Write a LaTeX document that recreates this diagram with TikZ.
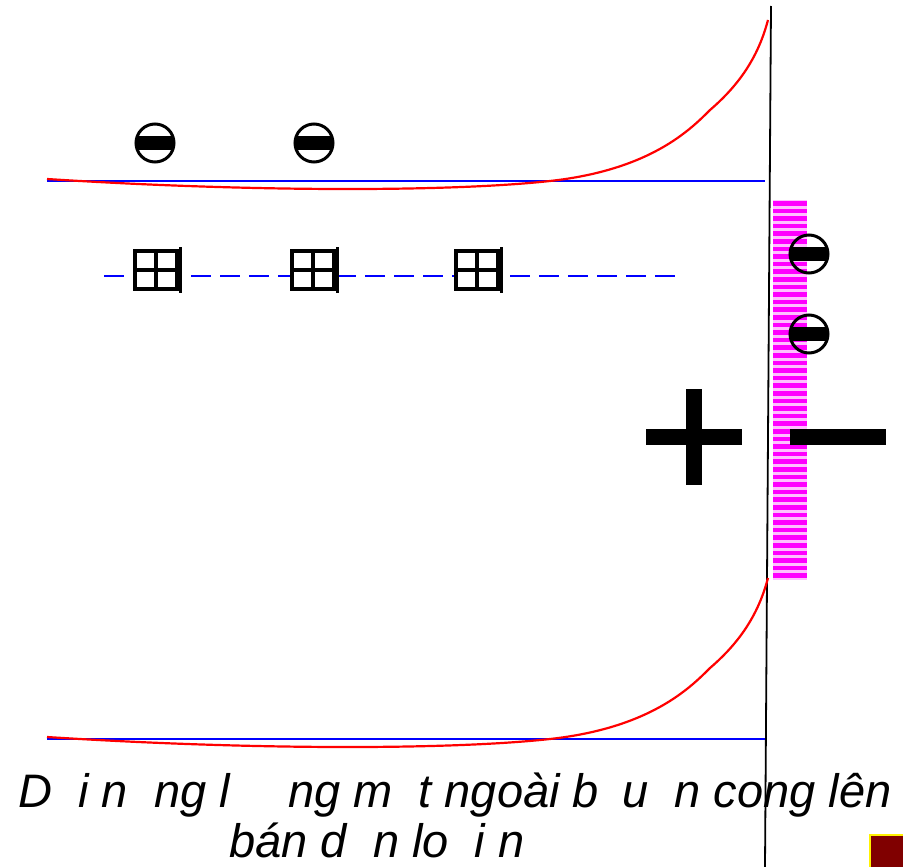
\documentclass[tikz,border=0pt]{standalone}
\usepackage{fontspec}
\setmainfont{Liberation Sans}
\usetikzlibrary{positioning,calc}
\definecolor{hong}{HTML}{FF00FF}
\definecolor{nauDo}{HTML}{800000}
\newcommand{\mat}[1]{\hphantom{#1}}
\begin{document}
\begin{tikzpicture}[x=1pt,y=-1pt,
        e/.style={circle,draw,line width=3pt,minimum size=38pt,inner sep=0pt,
          path picture={\fill[black] ($(path picture bounding box.west)+(0,-7)$) rectangle ($(path picture bounding box.east)+(0,7)$);}},
        h/.style={rectangle,draw,fill=white,line width=4pt,minimum width=42pt,minimum height=38pt,inner sep=0pt,
          path picture={\draw[line width=4.5pt] (path picture bounding box.north) -- (path picture bounding box.south)
            (path picture bounding box.west) -- (path picture bounding box.east);}},
        bar/.style={fill=black,draw=none,inner sep=0pt},
        txt/.style={font=\fontsize{47}{54}\selectfont\itshape,inner sep=0pt,anchor=base}]
  \useasboundingbox (0,0) rectangle (903,867);
  % lop chuyen tiep
  \fill[hong!25] (773,200) rectangle (807,580);
  \foreach \k in {0,...,49}
    \fill[hong] (773,{201+7.6*\k}) rectangle (807,{205.5+7.6*\k});
  % mat ngoai
  \draw[line width=1.8pt] (771,6) -- (765,867);
  \draw[blue,line width=2.6pt] (47,181) -- (765,181);
  \draw[blue,line width=2.6pt] (47,739) -- (765,739);
  \draw[red,line width=2.2pt] (47,179) .. controls (250,192) and (450,192) .. (550,181)
    .. controls (650,170) and (690,130) .. (710,110) .. controls (745,80) and (760,50) .. (768,20);
  \draw[red,line width=2.2pt] (47,737) .. controls (250,750) and (450,750) .. (550,739)
    .. controls (650,728) and (690,688) .. (710,668) .. controls (745,638) and (760,608) .. (768,578);
  \draw[blue,line width=2.6pt,dash pattern=on 20pt off 9pt] (104,276) -- (680,276);
  % hat dan
  \node[e] (e1) at (155,143) {};
  \node[e] (e2) at (314,143) {};
  \node[e] (e3) at (809,254) {};
  \node[e] (e4) at (809,334) {};
  \node[h] (h1) at (156,270) {};
  \node[h] (h2) at (313,270) {};
  \node[h] (h3) at (477,270) {};
  \foreach \n in {h1,h2,h3}
    \draw[line width=3pt] ($(\n.north east)+(1.5,-2)$) -- ($(\n.south east)+(1.5,2)$);
  % dau
  \node[bar,minimum width=96pt,minimum height=16pt] (cong) at (694,437) {};
  \node[bar,minimum width=16pt,minimum height=96pt] (congd) at (694,437) {};
  \node[bar,minimum width=96pt,minimum height=16pt] (tru) at (838,437) {};
  % chu
  \node[txt] (t1) at (455,807) {D\mat{ả}i n\mat{ă}ng l\mat{ượ}ng m\mat{ặ}t ngoài b\mat{ị} u\mat{ố}n cong lên};
  \node[txt] (t2) at (377,857) {bán d\mat{ẫ}n lo\mat{ạ}i n};
  \node[draw=yellow,fill=nauDo,line width=2pt,minimum size=36pt,inner sep=0pt,anchor=north west] (o) at (869,834) {};
\end{tikzpicture}
\end{document}
